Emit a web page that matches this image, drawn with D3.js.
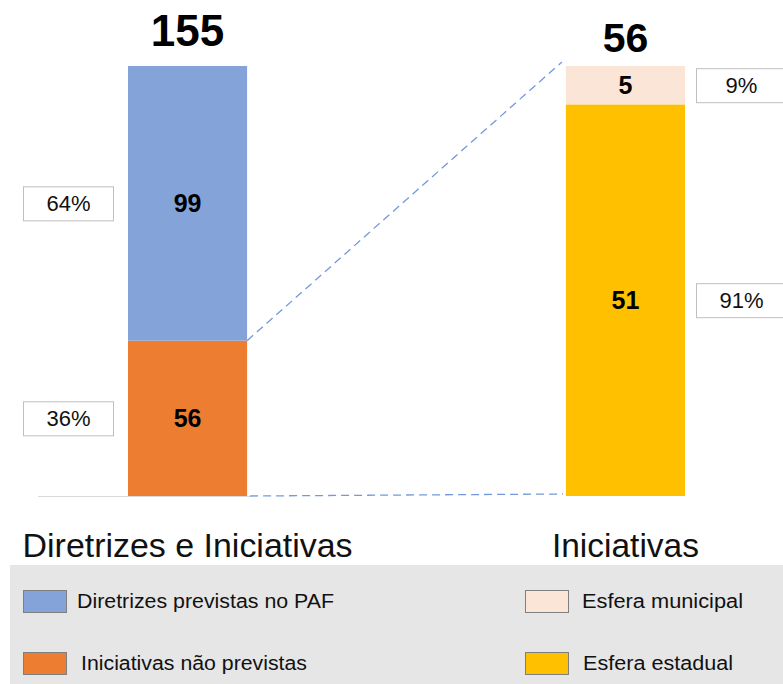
<!DOCTYPE html>
<html>
<head>
<meta charset="utf-8">
<script src="https://cdn.jsdelivr.net/npm/d3@7"></script>
<style>
  body { margin: 0; background: #fff; }
  text { font-family: "Liberation Sans", Arial, sans-serif; }
</style>
</head>
<body>
<div id="chart"></div>
<script>
// categories and values
const bars = ["Diretrizes e Iniciativas", "Iniciativas"];
const totals = [155, 56];

// segments, bottom to top
const leftNames = ["Iniciativas não previstas", "Diretrizes previstas no PAF"];
const leftValues = [56, 99];
const leftPct = ["36%", "64%"];

const rightNames = ["Esfera estadual", "Esfera municipal"];
const rightValues = [51, 5];
const rightPct = ["91%", "9%"];

const colors = {
    "Diretrizes previstas no PAF": "#84a3d8",
    "Iniciativas não previstas": "#ed7d31",
    "Esfera municipal": "#fbe5d6",
    "Esfera estadual": "#ffc000"
};

const legendLeft = ["Diretrizes previstas no PAF", "Iniciativas não previstas"];
const legendRight = ["Esfera municipal", "Esfera estadual"];

const width = 783, height = 684;
const barTop = 66, barBottom = 496;

const svg = d3.select("#chart")
    .append("svg")
    .attr("width", width)
    .attr("height", height);

const x = d3.scaleBand()
    .domain(bars)
    .range([128, 685])
    .paddingInner(0.728)
    .paddingOuter(0);

// each column fills the full height (100% stacked)
const yLeft = d3.scaleLinear().domain([0, totals[0]]).range([barBottom, barTop]);
const yRight = d3.scaleLinear().domain([0, totals[1]]).range([barBottom, barTop]);

function stackSegs(names, values, pct) {
    let acc = 0;
    return names.map((n, i) => {
        const s = { name: n, value: values[i], pct: pct[i], y0: acc, y1: acc + values[i] };
        acc += values[i];
        return s;
    });
}

const leftSegs = stackSegs(leftNames, leftValues, leftPct);
const rightSegs = stackSegs(rightNames, rightValues, rightPct);

// baseline
svg.append("line")
    .attr("x1", 38).attr("x2", 250)
    .attr("y1", barBottom + 0.5).attr("y2", barBottom + 0.5)
    .attr("stroke", "#d9d9d9")
    .attr("stroke-width", 1);

// connector lines (dashed)
const xl = x(bars[0]) + x.bandwidth();
const xr = x(bars[1]);
svg.append("line")
    .attr("x1", xl).attr("y1", yLeft(leftSegs[0].y1))
    .attr("x2", xr - 4).attr("y2", yRight(totals[1]) - 4)
    .attr("stroke", "#7399dc").attr("stroke-width", 1.3)
    .attr("stroke-dasharray", "8,5");
svg.append("line")
    .attr("x1", xl + 3).attr("y1", barBottom)
    .attr("x2", xr - 3).attr("y2", barBottom - 2)
    .attr("stroke", "#7399dc").attr("stroke-width", 1.3)
    .attr("stroke-dasharray", "8,5");

function drawColumn(cat, segs, y, side) {
    const g = svg.append("g");
    const x0 = x(cat), bw = x.bandwidth();

    g.selectAll("rect.seg")
        .data(segs)
        .join("rect")
        .attr("class", "seg")
        .attr("x", x0)
        .attr("width", bw)
        .attr("y", d => y(d.y1))
        .attr("height", d => y(d.y0) - y(d.y1))
        .attr("fill", d => colors[d.name]);

    g.selectAll("text.val")
        .data(segs)
        .join("text")
        .attr("class", "val")
        .attr("x", x0 + bw / 2)
        .attr("y", d => (y(d.y0) + y(d.y1)) / 2 + 9)
        .attr("text-anchor", "middle")
        .attr("font-size", 25)
        .attr("font-weight", "bold")
        .attr("fill", "#000")
        .text(d => d.value);

    // percentage boxes
    const boxW = 90, boxH = 34;
    const bx = side === "left" ? x0 - 15 - boxW : x0 + bw + 11;
    const boxes = g.selectAll("g.pct")
        .data(segs)
        .join("g")
        .attr("class", "pct")
        .attr("transform", d => `translate(${bx}, ${(y(d.y0) + y(d.y1)) / 2 - boxH / 2})`);
    boxes.append("rect")
        .attr("x", 0.5).attr("y", 0.5)
        .attr("width", boxW).attr("height", boxH)
        .attr("fill", "#fff")
        .attr("stroke", "#bfbfbf");
    boxes.append("text")
        .attr("x", boxW / 2 + 0.5)
        .attr("y", boxH / 2 + 8)
        .attr("text-anchor", "middle")
        .attr("font-size", 22)
        .attr("fill", "#111")
        .text(d => d.pct);
}

drawColumn(bars[0], leftSegs, yLeft, "left");
drawColumn(bars[1], rightSegs, yRight, "right");

// totals on top
svg.append("text")
    .attr("x", x(bars[0]) + x.bandwidth() / 2)
    .attr("y", 46)
    .attr("text-anchor", "middle")
    .attr("font-size", 44)
    .attr("font-weight", "bold")
    .text(totals[0]);
svg.append("text")
    .attr("x", x(bars[1]) + x.bandwidth() / 2)
    .attr("y", 52)
    .attr("text-anchor", "middle")
    .attr("font-size", 41)
    .attr("font-weight", "bold")
    .text(totals[1]);

// category labels
svg.selectAll("text.cat")
    .data(bars)
    .join("text")
    .attr("class", "cat")
    .attr("x", d => x(d) + x.bandwidth() / 2)
    .attr("y", 557)
    .attr("text-anchor", "middle")
    .attr("font-size", 33)
    .attr("fill", "#111")
    .attr("textLength", (d, i) => i === 0 ? 330 : 147)
    .attr("lengthAdjust", "spacingAndGlyphs")
    .text(d => d);

// legend
svg.append("rect")
    .attr("x", 10).attr("y", 565)
    .attr("width", width - 10).attr("height", height - 565)
    .attr("fill", "#e6e6e6");

function drawLegend(items, sx, tx, widths) {
    const rows = [590, 652];
    const lg = svg.append("g");
    items.forEach((name, i) => {
        lg.append("rect")
            .attr("x", sx + 0.5).attr("y", rows[i] + 0.5)
            .attr("width", 43).attr("height", 22)
            .attr("fill", colors[name])
            .attr("stroke", "#7f7f7f");
        lg.append("text")
            .attr("x", tx[i])
            .attr("y", rows[i] + 18)
            .attr("font-size", 20)
            .attr("fill", "#111")
            .attr("textLength", widths[i])
            .attr("lengthAdjust", "spacingAndGlyphs")
            .text(name);
    });
}

drawLegend(legendLeft, 23, [77, 81], [257, 226]);
drawLegend(legendRight, 525, [582, 583], [161, 150]);
</script>
</body>
</html>
